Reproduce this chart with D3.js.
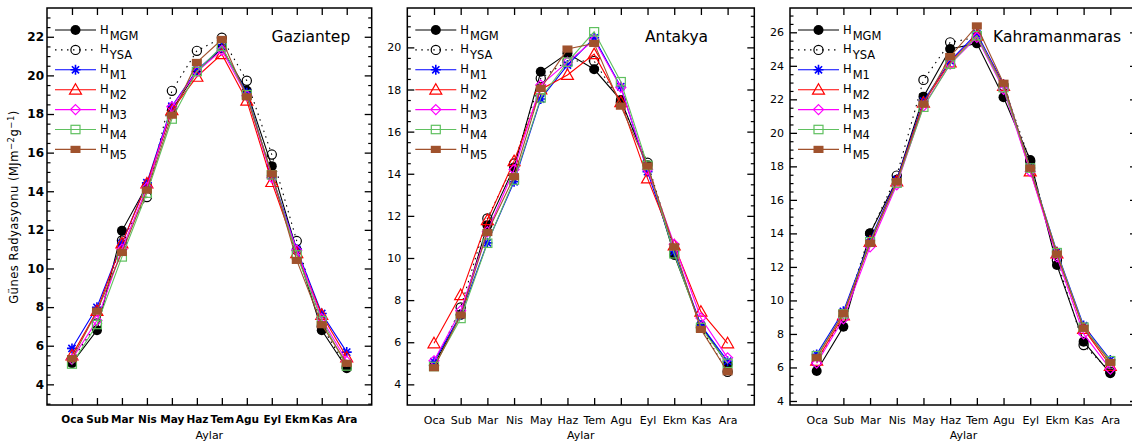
<!DOCTYPE html>
<html><head><meta charset="utf-8">
<script src="https://cdn.jsdelivr.net/npm/d3@7"></script>
<style>body{margin:0;background:#fff}svg{display:block}</style>
</head><body>
<svg id="chart" width="1132" height="441"></svg>
<script>
// Monthly global solar radiation: measured (MGM), ANN (YSA) and five empirical models
const months = ["Oca","Sub","Mar","Nis","May","Haz","Tem","Agu","Eyl","Ekm","Kas","Ara"];
const seriesNames = ["MGM","YSA","M1","M2","M3","M4","M5"];
const stations = ["Gaziantep","Antakya","Kahramanmaras"];

const gaziantepMGM = [5.10, 6.80, 11.95, 14.30, 18.20, 20.20, 21.40, 19.20, 15.30, 10.95, 6.80, 4.83];
const gaziantepYSA = [5.25, 7.15, 11.45, 13.70, 19.20, 21.27, 21.95, 19.72, 15.90, 11.42, 7.00, 4.90];
const gaziantepM1  = [5.86, 7.99, 11.30, 14.44, 18.40, 20.27, 21.43, 19.10, 14.80, 11.00, 7.67, 5.67];
const gaziantepM2  = [5.50, 7.80, 11.30, 14.40, 18.20, 19.93, 21.10, 18.69, 14.48, 10.80, 7.60, 5.40];
const gaziantepM3  = [5.30, 7.30, 11.00, 14.20, 18.37, 20.20, 21.30, 18.95, 14.70, 10.95, 7.40, 5.20];
const gaziantepM4  = [5.05, 7.10, 10.60, 13.90, 17.74, 20.20, 21.50, 19.00, 14.85, 10.70, 7.30, 4.95];
const gaziantepM5  = [5.33, 7.79, 10.83, 14.06, 17.94, 20.67, 21.86, 18.89, 14.90, 10.42, 7.09, 5.09];

const antakyaMGM = [4.92, 7.30, 11.56, 14.30, 18.84, 19.72, 18.96, 17.50, 14.40, 10.14, 6.80, 4.95];
const antakyaYSA = [4.90, 7.65, 11.88, 14.49, 18.53, 19.35, 19.35, 17.40, 14.52, 10.40, 6.70, 4.60];
const antakyaM1  = [5.08, 7.30, 10.72, 13.62, 17.55, 19.16, 20.45, 18.13, 14.10, 10.30, 6.81, 5.10];
const antakyaM2  = [5.95, 8.24, 11.80, 14.60, 18.00, 18.69, 19.68, 17.40, 13.78, 10.60, 7.45, 5.95];
const antakyaM3  = [5.12, 7.50, 11.25, 14.20, 18.21, 19.30, 20.35, 18.10, 14.20, 10.65, 7.15, 5.26];
const antakyaM4  = [4.85, 7.13, 10.70, 13.70, 17.60, 19.30, 20.74, 18.37, 14.40, 10.20, 6.70, 5.00];
const antakyaM5  = [4.79, 7.29, 11.21, 13.86, 18.05, 19.92, 20.19, 17.21, 14.37, 10.53, 6.61, 4.60];

const kahramanmarasMGM = [5.79, 8.43, 14.00, 17.20, 22.16, 25.00, 25.34, 22.12, 18.38, 12.11, 7.54, 5.65];
const kahramanmarasYSA = [6.30, 9.00, 14.00, 17.45, 23.16, 25.40, 25.70, 22.80, 18.30, 12.40, 7.34, 5.75];
const kahramanmarasM1  = [6.78, 9.35, 13.60, 17.20, 21.90, 24.30, 25.94, 22.90, 17.90, 12.90, 8.50, 6.45];
const kahramanmarasM2  = [6.40, 9.10, 13.50, 17.10, 21.80, 24.20, 25.80, 22.80, 17.70, 12.80, 8.30, 6.10];
const kahramanmarasM3  = [6.25, 8.90, 13.20, 16.90, 21.60, 24.10, 25.70, 22.60, 17.70, 12.60, 8.00, 5.90];
const kahramanmarasM4  = [6.70, 9.20, 13.50, 17.00, 21.53, 24.10, 25.80, 22.70, 17.90, 12.85, 8.40, 6.40];
const kahramanmarasM5  = [6.58, 9.23, 13.40, 17.09, 21.72, 24.55, 26.38, 22.96, 17.89, 12.77, 8.34, 6.30];

const yTicksGaziantep = [4, 6, 8, 10, 12, 14, 16, 18, 20, 22];
const yTicksAntakya = [4, 6, 8, 10, 12, 14, 16, 18, 20];
const yTicksKahramanmaras = [4, 6, 8, 10, 12, 14, 16, 18, 20, 22, 24, 26];

const FONT = "DejaVu Sans, sans-serif";

// per-series look
const styles = {
  MGM: {color: "#000000", dash: null,      marker: "dot"},
  YSA: {color: "#000000", dash: "1.5,4.5", marker: "circle"},
  M1:  {color: "#0000ff", dash: null,      marker: "star"},
  M2:  {color: "#ff0000", dash: null,      marker: "triangle"},
  M3:  {color: "#ff00ff", dash: null,      marker: "diamond"},
  M4:  {color: "#5fc05f", dash: null,      marker: "square"},
  M5:  {color: "#a0522d", dash: null,      marker: "block"}
};

const panels = [
  {name: stations[0], x0: 47, x1: 371.7, yDomain: [2.93, 23.49], yTicks: yTicksGaziantep, titleX: 271.5, bold: true,
   series: [gaziantepMGM, gaziantepYSA, gaziantepM1, gaziantepM2, gaziantepM3, gaziantepM4, gaziantepM5]},
  {name: stations[1], x0: 407.3, x1: 754.3, yDomain: [3.02, 21.87], yTicks: yTicksAntakya, titleX: 645, bold: false,
   series: [antakyaMGM, antakyaYSA, antakyaM1, antakyaM2, antakyaM3, antakyaM4, antakyaM5]},
  {name: stations[2], x0: 790, x1: 1137, yDomain: [3.76, 27.45], yTicks: yTicksKahramanmaras, titleX: 993, bold: false,
   series: [kahramanmarasMGM, kahramanmarasYSA, kahramanmarasM1, kahramanmarasM2, kahramanmarasM3, kahramanmarasM4, kahramanmarasM5]}
];
const plotTop = 8, plotBottom = 405;

const svg = d3.select("#chart");

function marker(g, type, x, y, color) {
  switch (type) {
    case "dot":
      g.append("circle").attr("cx", x).attr("cy", y).attr("r", 5).attr("fill", color); break;
    case "circle":
      g.append("circle").attr("cx", x).attr("cy", y).attr("r", 4.6).attr("fill", "none").attr("stroke", color).attr("stroke-width", 1.2); break;
    case "star": {
      const s = 5, d = 3.6;
      g.append("path").attr("d",
        `M${x-s},${y}L${x+s},${y}M${x},${y-s}L${x},${y+s}M${x-d},${y-d}L${x+d},${y+d}M${x-d},${y+d}L${x+d},${y-d}`)
        .attr("stroke", color).attr("stroke-width", 1.6).attr("fill", "none");
      break; }
    case "triangle":
      g.append("path").attr("d", `M${x},${y-6}L${x+6},${y+4.5}L${x-6},${y+4.5}Z`)
        .attr("fill", "none").attr("stroke", color).attr("stroke-width", 1.2); break;
    case "diamond":
      g.append("path").attr("d", `M${x},${y-5}L${x+5},${y}L${x},${y+5}L${x-5},${y}Z`)
        .attr("fill", "none").attr("stroke", color).attr("stroke-width", 1.2); break;
    case "square":
      g.append("rect").attr("x", x-4.5).attr("y", y-4.2).attr("width", 9).attr("height", 8.4)
        .attr("fill", "none").attr("stroke", color).attr("stroke-width", 1.2); break;
    case "block":
      g.append("rect").attr("x", x-5).attr("y", y-3.6).attr("width", 10).attr("height", 7.2)
        .attr("fill", color); break;
  }
}

panels.forEach(p => {
  const x = d3.scaleLinear().domain([0, 13]).range([p.x0, p.x1]);
  const y = d3.scaleLinear().domain(p.yDomain).range([plotBottom, plotTop]);
  const g = svg.append("g");
  const monthIdx = d3.range(1, 13);
  const minor = d3.range(Math.ceil(p.yDomain[0] * 2) / 2, p.yDomain[1], 0.5).filter(v => Math.abs(v % 2) > 1e-6);
  const tickFont = p.bold ? "bold" : "normal";

  // frame
  g.append("rect").attr("x", p.x0).attr("y", plotTop).attr("width", p.x1 - p.x0).attr("height", plotBottom - plotTop)
    .attr("fill", "none").attr("stroke", "#000").attr("stroke-width", 1.5);

  // bottom axis (ticks inward, month names)
  const xb = g.append("g").attr("transform", `translate(0,${plotBottom})`)
    .call(d3.axisBottom(x).tickValues(monthIdx).tickSizeInner(-7).tickSizeOuter(0).tickPadding(11)
      .tickFormat(d => months[d - 1]));
  xb.select(".domain").remove();
  xb.selectAll("line").attr("stroke-width", 1.3);
  xb.selectAll("text").attr("font-family", FONT).attr("font-size", p.bold ? 10.5 : 11).attr("font-weight", tickFont).attr("fill", "#000");

  // top axis (ticks only)
  const xt = g.append("g").attr("transform", `translate(0,${plotTop})`)
    .call(d3.axisTop(x).tickValues(monthIdx).tickSizeInner(-7).tickSizeOuter(0).tickFormat(""));
  xt.select(".domain").remove();
  xt.selectAll("line").attr("stroke-width", 1.3);

  // left axis with labels, plus minor ticks
  const yl = g.append("g").attr("transform", `translate(${p.x0},0)`)
    .call(d3.axisLeft(y).tickValues(p.yTicks).tickSizeInner(-7).tickSizeOuter(0).tickPadding(p.bold ? 3 : 6)
      .tickFormat(d3.format("d")));
  yl.select(".domain").remove();
  yl.selectAll("line").attr("stroke-width", 1.3);
  yl.selectAll("text").attr("font-family", FONT).attr("font-size", p.bold ? 12 : 11).attr("font-weight", tickFont).attr("fill", "#000");
  const ylm = g.append("g").attr("transform", `translate(${p.x0},0)`)
    .call(d3.axisLeft(y).tickValues(minor).tickSizeInner(-3.5).tickSizeOuter(0).tickFormat(""));
  ylm.select(".domain").remove();
  ylm.selectAll("line").attr("stroke-width", 1.2);

  // right axis (ticks only)
  const yr = g.append("g").attr("transform", `translate(${p.x1},0)`)
    .call(d3.axisRight(y).tickValues(p.yTicks).tickSizeInner(-7).tickSizeOuter(0).tickFormat(""));
  yr.select(".domain").remove();
  yr.selectAll("line").attr("stroke-width", 1.3);
  const yrm = g.append("g").attr("transform", `translate(${p.x1},0)`)
    .call(d3.axisRight(y).tickValues(minor).tickSizeInner(-3.5).tickSizeOuter(0).tickFormat(""));
  yrm.select(".domain").remove();
  yrm.selectAll("line").attr("stroke-width", 1.2);

  // series lines and markers
  const line = d3.line().x((d, i) => x(i + 1)).y(d => y(d));
  p.series.forEach((vals, si) => {
    const st = styles[seriesNames[si]];
    const sg = g.append("g");
    sg.append("path").datum(vals).attr("d", line).attr("fill", "none")
      .attr("stroke", st.color).attr("stroke-width", 1.1)
      .attr("stroke-dasharray", st.dash);
    vals.forEach((v, i) => marker(sg, st.marker, x(i + 1), y(v), st.color));
  });

  // legend
  const lg = g.append("g");
  seriesNames.forEach((nm, i) => {
    const st = styles[nm];
    const ly = 30 + i * 19.9;
    lg.append("line").attr("x1", p.x0 + 8).attr("x2", p.x0 + 49).attr("y1", ly).attr("y2", ly)
      .attr("stroke", st.color).attr("stroke-width", 1.1).attr("stroke-dasharray", st.dash);
    marker(lg, st.marker, p.x0 + 28.5, ly, st.color);
    const t = lg.append("text").attr("x", p.x0 + 53).attr("y", ly + 3.5)
      .attr("font-family", FONT).attr("font-size", 11.5).attr("fill", "#000");
    t.append("tspan").text("H");
    t.append("tspan").attr("dy", 6).attr("dx", 1).text(nm);
  });

  // station name
  g.append("text").attr("x", p.titleX).attr("y", 41.5).attr("font-family", FONT)
    .attr("font-size", 15.5).attr("fill", "#000").text(p.name);

  // x axis title
  g.append("text").attr("x", (p.x0 + p.x1) / 2).attr("y", 439)
    .attr("text-anchor", "middle").attr("font-family", FONT).attr("font-size", 11).attr("fill", "#000").text("Aylar");
});

// y axis title
const yt = svg.append("text").attr("transform", "translate(18,207) rotate(-90)")
  .attr("text-anchor", "middle").attr("font-family", FONT).attr("font-size", 11.5)
  .attr("letter-spacing", 0.5).attr("fill", "#000");
yt.append("tspan").text("Günes Radyasyonu (MJm");
yt.append("tspan").attr("dy", -4).attr("font-size", 8.5).text("−2");
yt.append("tspan").attr("dy", 4).text("g");
yt.append("tspan").attr("dy", -4).attr("font-size", 8.5).text("−1");
yt.append("tspan").attr("dy", 4).text(")");
</script>
</body></html>
